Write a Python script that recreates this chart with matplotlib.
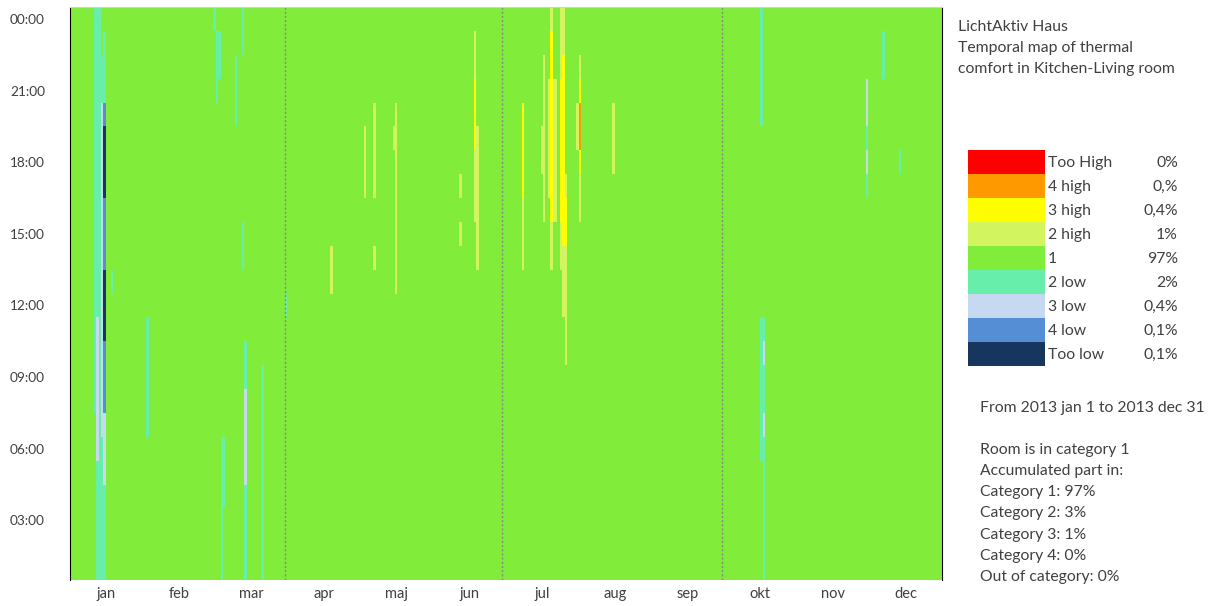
import numpy as np
import matplotlib.pyplot as plt
from matplotlib.colors import ListedColormap, BoundaryNorm
from matplotlib.patches import Rectangle

plt.rcParams['font.family'] = ['Lato', 'DejaVu Sans']

# comfort categories, from coldest to hottest
cat_names = ['Too low', '4 low', '3 low', '2 low', '1', '2 high', '3 high', '4 high', 'Too High']
cat_share = ['0,1%', '0,1%', '0,4%', '2%', '97%', '1%', '0,4%', '0,%', '0%']
cat_colors = ['#17365d', '#558ed5', '#c6d9f0', '#66eeaa', '#82ec3a',
              '#d2f55f', '#ffff00', '#ff9900', '#ff0000']

months = ['jan', 'feb', 'mar', 'apr', 'maj', 'jun', 'jul', 'aug', 'sep', 'okt', 'nov', 'dec']
quarter_days = [90, 181, 273]
hour_ticks = [3, 6, 9, 12, 15, 18, 21, 24]
hour_labels = ['03:00', '06:00', '09:00', '12:00', '15:00', '18:00', '21:00', '00:00']

# hours outside category 1: (day of year, first hour, last hour)
too_low = [(14, 17, 19), (14, 11, 13)]
low4 = [(14, 20, 20), (14, 14, 16), (14, 8, 10)]
low3 = [(11, 6, 11), (13, 7, 20), (14, 5, 7), (73, 5, 8), (290, 10, 10), (290, 7, 7),
        (333, 20, 21), (333, 18, 18)]
low2 = [(10, 8, 24), (11, 1, 24), (12, 1, 24), (13, 21, 22), (13, 1, 6), (14, 21, 23),
        (14, 1, 4), (17, 13, 13), (32, 7, 11), (60, 24, 24), (61, 21, 23), (62, 22, 23),
        (63, 1, 6), (64, 4, 6), (69, 20, 22), (72, 23, 24), (72, 14, 15), (73, 1, 10),
        (80, 1, 9), (90, 12, 12), (289, 20, 24), (289, 6, 11), (290, 1, 11),
        (333, 19, 19), (333, 17, 17), (340, 22, 23), (347, 18, 18)]
high2 = [(109, 13, 14), (123, 17, 19), (127, 17, 20), (127, 14, 14), (135, 19, 19),
         (136, 13, 20), (163, 17, 17), (163, 15, 15), (169, 22, 23), (169, 16, 18),
         (170, 14, 19), (189, 14, 16), (197, 18, 19), (198, 16, 22), (200, 17, 21),
         (201, 24, 24), (201, 14, 15), (202, 16, 21), (203, 16, 21), (205, 22, 24),
         (205, 14, 15), (206, 23, 24), (206, 12, 14), (207, 17, 17), (207, 10, 14),
         (212, 19, 20), (213, 22, 22), (213, 16, 17), (227, 18, 20)]
high3 = [(169, 19, 21), (189, 17, 20), (201, 16, 23), (205, 16, 21), (206, 15, 22),
         (207, 15, 16), (213, 21, 21), (213, 18, 18)]
high4 = [(213, 19, 20)]

grid = np.full((24, 365), 4)
for cat, segs in [(3, low2), (2, low3), (1, low4), (0, too_low),
                  (5, high2), (6, high3), (7, high4)]:
    for d, h0, h1 in segs:
        grid[h0 - 1:h1, d] = cat

fig = plt.figure(figsize=(12.15, 6.06), dpi=100)
ax = fig.add_axes([70 / 1215, 1 - 580 / 606, 872 / 1215, 573 / 606])

cmap = ListedColormap(cat_colors)
norm = BoundaryNorm(np.arange(-0.5, 9.5), cmap.N)
ax.pcolormesh(np.arange(366), np.arange(0.5, 25), grid, cmap=cmap, norm=norm,
              edgecolors='none', antialiased=False)
for q in quarter_days:
    ax.axvline(q, color='#888888', ls=(0, (1.5, 1.5)), lw=1)

ax.set_xlim(0, 365)
ax.set_ylim(0.5, 24.5)
ax.set_yticks(hour_ticks)
ax.set_yticklabels(hour_labels)
ax.set_xticks((np.arange(12) + 0.5) * 365 / 12)
ax.set_xticklabels(months)
ax.tick_params(length=0, labelsize=10.5, labelcolor='#404040')
ax.tick_params(axis='y', labelsize=9.8, pad=18)
ax.tick_params(axis='x', pad=5)
ax.spines['bottom'].set_visible(False)
ax.spines['top'].set_color('#d0d0d0')
ax.spines['left'].set_color('black')
ax.spines['right'].set_color('black')

# side panel, drawn in pixel coordinates
side = fig.add_axes([0, 0, 1, 1])
side.set_xlim(0, 1215)
side.set_ylim(606, 0)
side.axis('off')
tc = '#404040'
fs = 11.3
for i, line in enumerate(['LichtAktiv Haus', 'Temporal map of thermal',
                          'comfort in Kitchen-Living room']):
    side.text(958, 27 + i * 21, line, fontsize=fs, color=tc, va='center')

for i in range(9):
    k = 8 - i
    y = 150 + i * 24
    side.add_patch(Rectangle((968, y), 77, 24, color=cat_colors[k], lw=0))
    side.text(1048, y + 13, cat_names[k], fontsize=fs, color=tc, va='center')
    side.text(1178, y + 13, cat_share[k], fontsize=fs, color=tc, va='center', ha='right')

notes = ['From 2013 jan 1 to 2013 dec 31', '', 'Room is in category 1',
         'Accumulated part in:', 'Category 1: 97%', 'Category 2: 3%',
         'Category 3: 1%', 'Category 4: 0%', 'Out of category: 0%']
for i, line in enumerate(notes):
    side.text(980, 408 + i * 21.1, line, fontsize=fs, color=tc, va='center')

fig.savefig('out.png', dpi=100)
